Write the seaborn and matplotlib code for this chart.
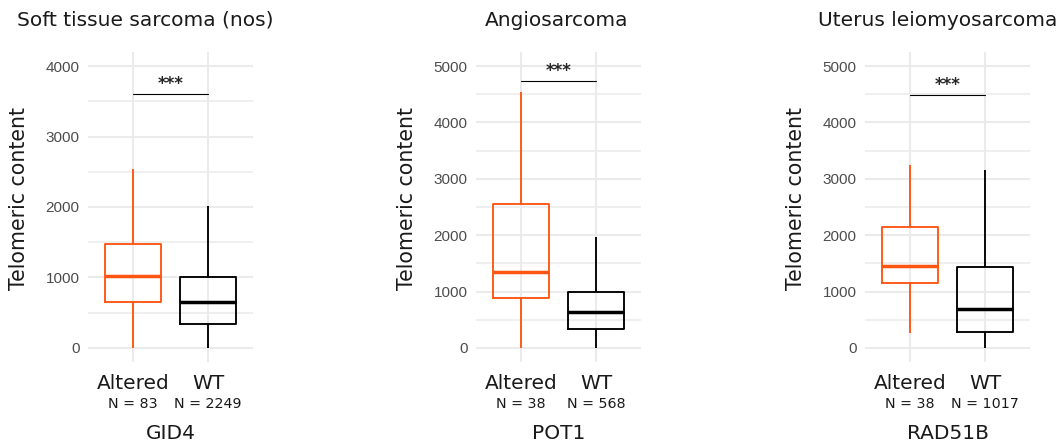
import numpy as np
import pandas as pd
import matplotlib
matplotlib.use("Agg")
import matplotlib.pyplot as plt
import seaborn as sns

# ---- data (five-number summaries: min, Q1, median, Q3, max) ----
categories = ["Altered", "WT"]
titles = ["Soft tissue sarcoma (nos)", "Angiosarcoma", "Uterus leiomyosarcoma"]
genes = ["GID4", "POT1", "RAD51B"]
n_altered = [83, 38, 38]
n_wt = [2249, 568, 1017]

gid4_altered = [0, 657, 1021, 1475, 2539]
gid4_wt = [0, 345, 657, 1011, 2014]
pot1_altered = [0, 892, 1348, 2559, 4532]
pot1_wt = [0, 337, 644, 993, 1962]
rad51b_altered = [272, 1147, 1460, 2151, 3238]
rad51b_wt = [0, 284, 697, 1436, 3150]

sig_labels = ["***", "***", "***"]
sig_y = [3598, 4727, 4480]
y_top_tick = [4000, 5000, 5000]

altered_sets = [gid4_altered, pot1_altered, rad51b_altered]
wt_sets = [gid4_wt, pot1_wt, rad51b_wt]

ORANGE = "#FF5512"
palette = {"Altered": ORANGE, "WT": "#000000"}

sns.set_style("white")
FONT = ["DejaVu Sans"]
plt.rcParams["font.family"] = FONT

W, H = 1062, 444
fig = plt.figure(figsize=(W / 100, H / 100), dpi=100)

ax_left_px = [88, 476, 865]
ax_w_px = 165
ax_top_px, ax_bot_px = 52, 362
title_x_px = [145, 557, 938]

for i in range(3):
    left = ax_left_px[i] / W
    bottom = (H - ax_bot_px) / H
    ax = fig.add_axes([left, bottom, ax_w_px / W, (ax_bot_px - ax_top_px) / H])

    df = pd.DataFrame({
        "group": ["Altered"] * 5 + ["WT"] * 5,
        "value": list(altered_sets[i]) + list(wt_sets[i]),
    })
    sns.boxplot(data=df, x="group", y="value", hue="group", order=categories,
                hue_order=categories, palette=palette, fill=False, width=0.75,
                whis=(0, 100), linewidth=1.35, showcaps=False, legend=False,
                medianprops=dict(linewidth=2.5), ax=ax)

    top = y_top_tick[i]
    pad = top * 0.05
    ax.set_ylim(-pad, top + pad)
    ax.set_xlim(-0.6, 1.6)
    ax.set_yticks(np.arange(0, top + 1, 1000))
    ax.set_yticks(np.arange(500, top + pad, 1000), minor=True)
    ax.set_xticks([0, 1])
    ax.grid(which="major", color="#EBEBEB", linewidth=1.5)
    ax.grid(which="minor", axis="y", color="#EBEBEB", linewidth=1.1)
    ax.set_axisbelow(True)
    for s in ax.spines.values():
        s.set_visible(False)
    ax.tick_params(axis="both", which="both", length=0)
    ax.tick_params(axis="y", pad=6, labelsize=11, labelcolor="#4D4D4D")
    for lab in ax.get_yticklabels():
        lab.set_family(["Liberation Sans", "DejaVu Sans"])
    ax.set_xticklabels([])
    ax.set_xlabel("")
    ax.set_ylabel("")

    # category labels and N counts
    ns = [n_altered[i], n_wt[i]]
    for j, cat in enumerate(categories):
        ax.annotate(cat, xy=(j, 0), xycoords=("data", "axes fraction"),
                    xytext=(0, -15.3), textcoords="offset points",
                    ha="center", va="center", fontsize=14.5, color="#1a1a1a")
        ax.annotate(f"N = {ns[j]}", xy=(j, 0), xycoords=("data", "axes fraction"),
                    xytext=(0, -30.5), textcoords="offset points",
                    ha="center", va="center", fontsize=10.3, color="#1a1a1a")

    # x label (gene)
    ax.annotate(genes[i], xy=(0.5, 0), xycoords="axes fraction",
                xytext=(0, -51.5), textcoords="offset points",
                ha="center", va="center", fontsize=14.5, color="#1a1a1a")
    # y label
    ax.annotate("Telomeric content", xy=(0, 0.529), xycoords="axes fraction",
                xytext=(-49.5, 0), textcoords="offset points", rotation=90,
                ha="center", va="center", fontsize=14.8, color="#1a1a1a")

    # significance bracket
    ax.plot([0, 1], [sig_y[i], sig_y[i]], color="black", linewidth=0.8)
    ax.annotate(sig_labels[i], xy=(0.5, sig_y[i]), xycoords="data",
                xytext=(0, 7.5), textcoords="offset points",
                ha="center", va="center", fontsize=12, fontweight="bold")

    fig.text(title_x_px[i] / W, 1 - 20 / H, titles[i], ha="center", va="center",
             fontsize=14.5, color="#1a1a1a")

fig.savefig("out.png", dpi=100)
